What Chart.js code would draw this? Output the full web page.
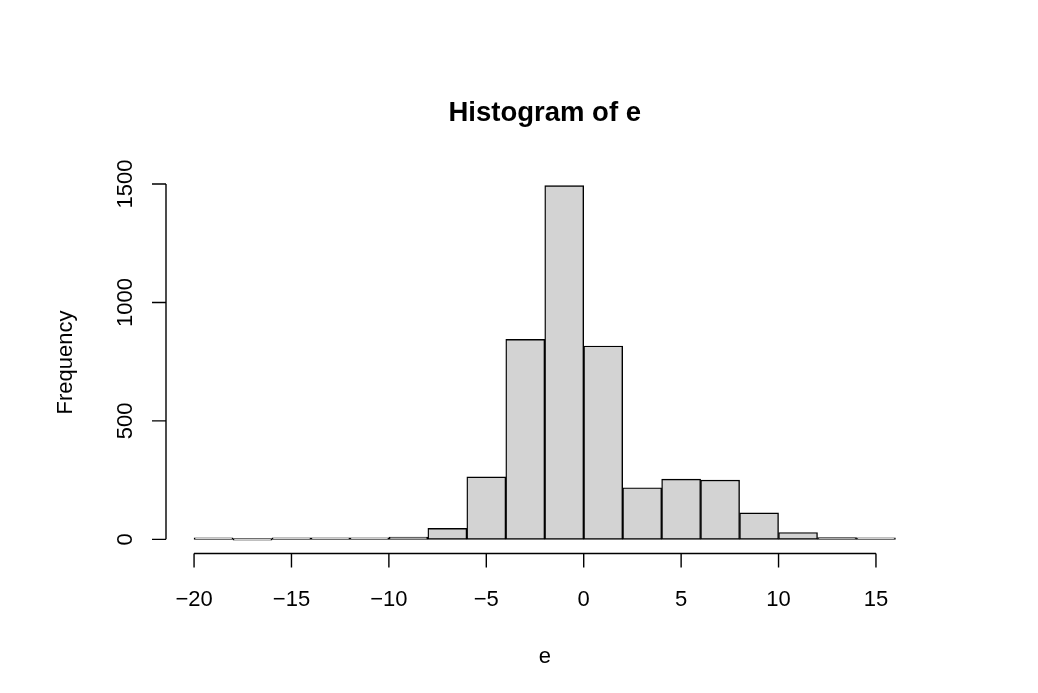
<!DOCTYPE html>
<html>
<head>
<meta charset="utf-8">
<title>Histogram of e</title>
<script src="https://cdn.jsdelivr.net/npm/chart.js@4.4.1/dist/chart.umd.min.js"></script>
<style>
body{margin:0;background:#fff;}
#wrap{width:1038px;height:693px;}
</style>
</head>
<body>
<div id="wrap"><canvas id="hist" width="1038" height="693"></canvas></div>
<script>
// bins of width 2, left edges
let binStart = [-20,-18,-16,-14,-12,-10,-8,-6,-4,-2,0,2,4,6,8,10,12,14]
let binWidth = 2
let counts = [1,0,4,3,4,10,46,264,844,1493,816,218,254,250,112,29,7,3]
let xTicks = [-20,-15,-10,-5,0,5,10,15]
let xTickLabels = ['\u221220','\u221215','\u221210','\u22125','0','5','10','15']
let yTicks = [0,500,1000,1500]
let yTickLabels = ['0','500','1000','1500']
let mainTitle = 'Histogram of e'
let xTitle = 'e'
let yTitle = 'Frequency'

let font = '"Liberation Sans", Arial, sans-serif'

// R style 4% axis extension
let xLo = binStart[0], xHi = binStart[binStart.length-1]+binWidth
let xPad = (xHi-xLo)*0.04
let yMax = Math.max(...counts)
let yPad = yMax*0.04

let points = binStart.map((s,i)=>({x:s+binWidth/2, y:counts[i]}))

let rAxes = {
	id:'rAxes',
	afterDraw:(chart)=>{
		let c = chart.ctx
		let a = chart.chartArea
		let xs = chart.scales.x
		let ys = chart.scales.y
		c.save()
		c.strokeStyle = '#000'
		c.fillStyle = '#000'
		c.lineWidth = 1.4
		// x axis
		let y0 = a.bottom
		c.beginPath()
		c.moveTo(xs.getPixelForValue(xTicks[0]), y0)
		c.lineTo(xs.getPixelForValue(xTicks[xTicks.length-1]), y0)
		xTicks.forEach(t=>{
			let px = xs.getPixelForValue(t)
			c.moveTo(px, y0)
			c.lineTo(px, y0+14)
		})
		c.stroke()
		c.font = '22px '+font
		c.textAlign = 'center'
		c.textBaseline = 'middle'
		xTicks.forEach((t,i)=>{
			c.fillText(xTickLabels[i], xs.getPixelForValue(t), y0+46)
		})
		// y axis
		let x0 = a.left
		c.beginPath()
		c.moveTo(x0, ys.getPixelForValue(yTicks[0]))
		c.lineTo(x0, ys.getPixelForValue(yTicks[yTicks.length-1]))
		yTicks.forEach(t=>{
			let py = ys.getPixelForValue(t)
			c.moveTo(x0, py)
			c.lineTo(x0-14, py)
		})
		c.stroke()
		yTicks.forEach((t,i)=>{
			c.save()
			c.translate(x0-40, ys.getPixelForValue(t))
			c.rotate(-Math.PI/2)
			c.fillText(yTickLabels[i], 0, 0)
			c.restore()
		})
		// titles
		let cx = (a.left+a.right)/2
		let cy = (a.top+a.bottom)/2
		c.fillText(xTitle, cx, a.bottom+103)
		c.save()
		c.translate(x0-100, cy)
		c.rotate(-Math.PI/2)
		c.fillText(yTitle, 0, 0)
		c.restore()
		c.font = 'bold 27.5px '+font
		c.fillText(mainTitle, cx, a.top-58)
		c.restore()
	}
}

let ctx = document.getElementById('hist')
let histChart = new Chart(ctx, {
	type:'bar',
	data:{
		datasets:[{
			data:points,
			backgroundColor:'#d3d3d3',
			borderColor:'#000',
			borderWidth:1.4,
			borderSkipped:false,
			minBarLength:1.5,
			barPercentage:1,
			categoryPercentage:1
		}]
	},
	options:{
		responsive:false,
		animation:false,
		layout:{padding:{left:166,right:114.5,top:171.5,bottom:139.5}},
		plugins:{legend:{display:false},title:{display:false},tooltip:{enabled:false}},
		scales:{
			x:{type:'linear',offset:false,min:xLo-xPad,max:xHi+xPad,display:false},
			y:{type:'linear',min:-yPad,max:yMax+yPad,display:false}
		}
	},
	plugins:[rAxes]
})
</script>
</body>
</html>
